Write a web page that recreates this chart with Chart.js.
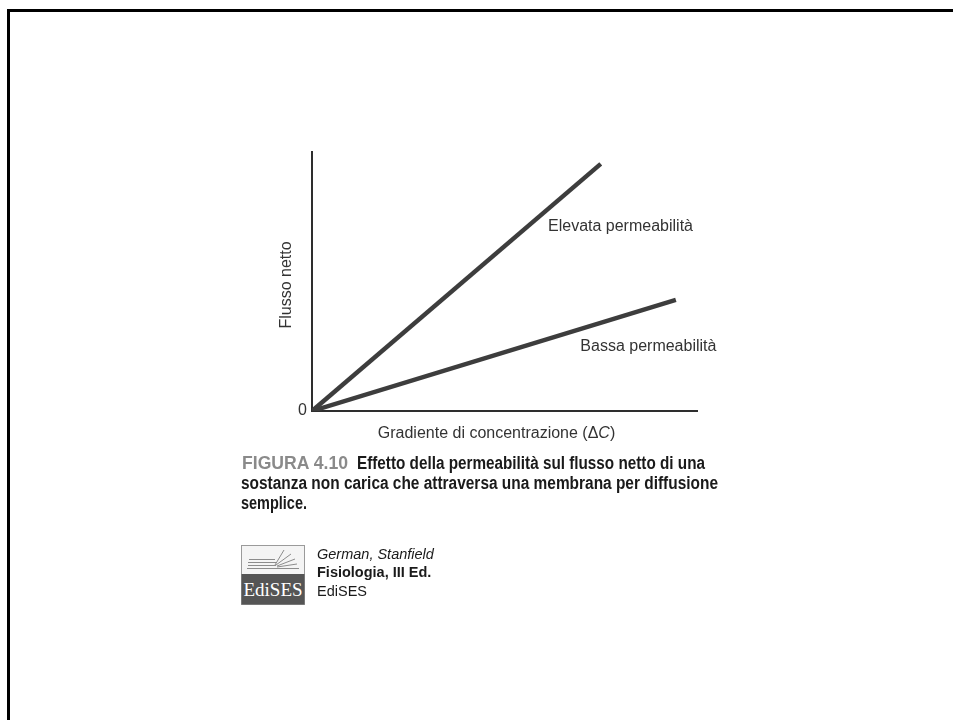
<!DOCTYPE html>
<html>
<head>
<meta charset="utf-8">
<script src="https://cdn.jsdelivr.net/npm/chart.js@4"></script>
<style>
  html, body { margin: 0; padding: 0; background: #fff; }
  body { width: 953px; height: 720px; position: relative; overflow: hidden; font-family: "Liberation Sans", Arial, sans-serif; }
  #frameTop { position: absolute; left: 7px; top: 9px; width: 946px; height: 3px; background: #000; }
  #frameLeft { position: absolute; left: 7px; top: 9px; width: 3px; height: 711px; background: #000; }
  #chart { position: absolute; left: 0; top: 0; }
  .cap { position: absolute; white-space: nowrap; font-weight: bold; font-size: 17.5px; line-height: 20px; color: #1a1a1a; transform-origin: 0 50%; }
  .cap.fig { color: #8a8a8a; font-size: 17.5px; }
  #logo { position: absolute; left: 241px; top: 545px; }
  .ref { position: absolute; left: 317px; font-size: 14.5px; color: #1a1a1a; white-space: nowrap; }
</style>
</head>
<body>
<div id="frameTop"></div>
<div id="frameLeft"></div>
<canvas id="chart" width="953" height="720"></canvas>

<div class="cap fig" data-w="106" style="left:242px; top:453px;">FIGURA 4.10</div>
<div class="cap" data-w="348" style="left:357px; top:453px;">Effetto della permeabilità sul flusso netto di una</div>
<div class="cap" data-w="477" style="left:241px; top:473px;">sostanza non carica che attraversa una membrana per diffusione</div>
<div class="cap" data-w="66" style="left:241px; top:493px;">semplice.</div>

<svg id="logo" width="64" height="60" viewBox="0 0 64 60">
  <rect x="0.5" y="0.5" width="63" height="59" fill="#f4f4f4" stroke="#9a9a9a"/>
  <rect x="0.5" y="29" width="63" height="30.5" fill="#555"/>
  <g stroke="#808080" stroke-width="0.9" fill="none">
    <line x1="6" y1="23.5" x2="58" y2="23.5"/>
    <line x1="7" y1="20.5" x2="35" y2="20.5"/>
    <line x1="7" y1="17.5" x2="35" y2="17.5"/>
    <line x1="8" y1="14.5" x2="34" y2="14.5"/>
    <line x1="34" y1="20" x2="43" y2="5"/>
    <line x1="35" y1="20" x2="50" y2="9"/>
    <line x1="36" y1="21" x2="54" y2="14"/>
    <line x1="36" y1="22" x2="56" y2="19"/>
  </g>
  <text x="32" y="51" text-anchor="middle" font-family="Liberation Serif, serif" font-size="19" fill="#fff">EdiSES</text>
</svg>
<div class="ref" style="top:546px; font-style:italic;">German, Stanfield</div>
<div class="ref" style="top:564px; font-weight:bold;">Fisiologia, III Ed.</div>
<div class="ref" style="top:583px;">EdiSES</div>

<script>
// concentration gradient (x) and net flux (y), arbitrary units
const gradient = [0, 75, 94.5];
const highPermeability = [0, 95.4, null];
const lowPermeability = [0, null, 42.9];
const seriesLabels = ["Elevata permeabilità", "Bassa permeabilità"];
const yTickLabels = ["0"];

function toPoints(values) {
  const pts = [];
  values.forEach((v, i) => { if (v !== null) pts.push({ x: gradient[i], y: v }); });
  return pts;
}

// squeeze the caption lines to the condensed face of the original
document.querySelectorAll(".cap").forEach(el => {
  const target = parseFloat(el.dataset.w);
  const natural = el.getBoundingClientRect().width;
  el.style.transform = "scaleX(" + (target / natural) + ")";
});

const lineColor = "#3d3d3d";
const axisColor = "#2e2e2e";
const textColor = "#333";
const font = "16px 'Liberation Sans', Arial, sans-serif";
const italicFont = "italic 16px 'Liberation Sans', Arial, sans-serif";

// axis titles, zero label and line annotations
const annotate = {
  id: "annotate",
  afterDraw(chart) {
    const { ctx, chartArea, scales } = chart;
    const x = scales.x, y = scales.y;
    ctx.save();
    ctx.fillStyle = textColor;
    ctx.font = font;
    ctx.textBaseline = "middle";

    // zero tick
    ctx.textAlign = "right";
    ctx.fillText(yTickLabels[0], chartArea.left - 5, y.getPixelForValue(0));

    // series labels
    ctx.textAlign = "left";
    ctx.fillText(seriesLabels[0], x.getPixelForValue(61.3), y.getPixelForValue(71.8) + 2);
    ctx.fillText(seriesLabels[1], x.getPixelForValue(69.7), y.getPixelForValue(25.5) + 2);

    // x title with italic C
    const main = "Gradiente di concentrazione (\u0394";
    const ital = "C";
    const close = ")";
    ctx.font = font;
    const w1 = ctx.measureText(main).width;
    const w3 = ctx.measureText(close).width;
    ctx.font = italicFont;
    const w2 = ctx.measureText(ital).width;
    const tx = (chartArea.left + chartArea.right) / 2 - 8 - (w1 + w2 + w3) / 2;
    const ty = chartArea.bottom + 23;
    ctx.font = font;
    ctx.fillText(main, tx, ty);
    ctx.font = italicFont;
    ctx.fillText(ital, tx + w1, ty);
    ctx.font = font;
    ctx.fillText(close, tx + w1 + w2, ty);

    // y title
    ctx.translate(chartArea.left - 25, (chartArea.top + chartArea.bottom) / 2 + 3.5);
    ctx.rotate(-Math.PI / 2);
    ctx.textAlign = "center";
    ctx.fillText("Flusso netto", 0, 0);
    ctx.restore();
  }
};

new Chart(document.getElementById("chart"), {
  type: "line",
  data: {
    datasets: [
      { label: seriesLabels[0], data: toPoints(highPermeability), borderColor: lineColor, borderWidth: 4.5, pointRadius: 0, fill: false },
      { label: seriesLabels[1], data: toPoints(lowPermeability), borderColor: lineColor, borderWidth: 4.5, pointRadius: 0, fill: false }
    ]
  },
  options: {
    responsive: false,
    animation: false,
    layout: { padding: { left: 312, top: 152, right: 256, bottom: 309 } },
    plugins: { legend: { display: false }, tooltip: { enabled: false } },
    scales: {
      x: {
        type: "linear", min: 0, max: 100,
        grid: { display: false, drawTicks: false },
        ticks: { display: false },
        border: { display: true, color: axisColor, width: 2 }
      },
      y: {
        type: "linear", min: 0, max: 100,
        grid: { display: false, drawTicks: false },
        ticks: { display: false },
        border: { display: true, color: axisColor, width: 2 }
      }
    }
  },
  plugins: [annotate]
});
</script>
</body>
</html>
